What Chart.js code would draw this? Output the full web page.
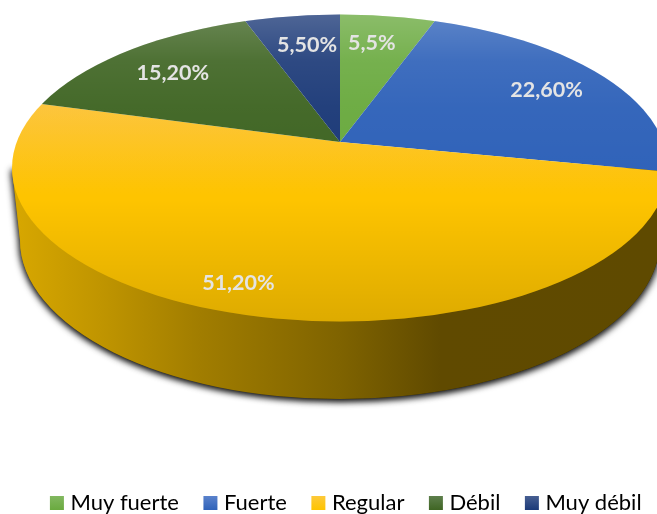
<!DOCTYPE html>
<html><head><meta charset="utf-8">
<style>html,body{margin:0;padding:0;background:#fff}canvas{display:block}</style>
<script src="https://cdn.jsdelivr.net/npm/chart.js@4"></script>
</head><body>
<canvas id="c" width="657" height="514"></canvas>
<script>
const categories = ["Muy fuerte","Fuerte","Regular","Débil","Muy débil"];
const values = [5.5,22.6,51.2,15.2,5.5];
const valueLabels = ["5,5%","22,60%","51,20%","15,20%","5,50%"];
const sliceColors = ["#6aaa3f","#2f62b9","#fec400","#3f6523","#1c3a78"];
const legendTopColors = ["#82b860","#5a82cc","#fdc93a","#5e7f4c","#475f92"];
const labelFractions = [[.44,.52],[.565,.55],[1.05,.75],[.543,.525],[.457,.51]];

// Projection of the flat pie on to the page
const apex = {x:340,y:142}, spreadX = 420, spreadY = 193;
const topRim = {x:340,y:168,rx:328,ry:153.5};
const baseRim = {x:340,y:240,rx:320,ry:159};
const wallStops = [[20,"#d6a600"],[100,"#c09500"],[200,"#a17d00"],[340,"#7f6300"],[440,"#604a00"],[657,"#5f4a00"]];
const legendShift = {x:19.5,y:1};

function traceWall(ctx){
  ctx.beginPath();
  ctx.moveTo(topRim.x-topRim.rx, topRim.y);
  ctx.lineTo(baseRim.x-baseRim.rx, baseRim.y);
  ctx.ellipse(baseRim.x,baseRim.y,baseRim.rx,baseRim.ry,0,Math.PI,0,true);
  ctx.lineTo(topRim.x+topRim.rx, topRim.y);
  ctx.closePath();
}

const threeD = {
  id:"threeD",
  afterLayout(chart){
    const l = chart.legend;
    const dy = 514 - 11 - (l.top + l.options.labels.padding + l.options.labels.font.size*0.5 + 1) + legendShift.y;
    l.top += dy; l.bottom += dy; l.left += legendShift.x; l.right += legendShift.x;
  },
  beforeDatasetsDraw(chart){
    const ctx = chart.ctx, arc = chart.getDatasetMeta(0).data[0];
    // side wall with soft shadow
    ctx.save();
    const g = ctx.createLinearGradient(20,0,657,0);
    wallStops.forEach(s=>g.addColorStop((s[0]-20)/637,s[1]));
    ctx.fillStyle = g;
    ctx.shadowColor = "rgba(0,0,0,0.95)";
    ctx.shadowBlur = 7;
    ctx.shadowOffsetX = -1;
    ctx.shadowOffsetY = 2;
    traceWall(ctx); ctx.fill();
    ctx.shadowColor = "rgba(0,0,0,0.6)";
    ctx.shadowOffsetX = 2;
    traceWall(ctx); ctx.fill();
    ctx.restore();
    // top surface: library arcs, squashed and clipped by the rim
    ctx.save();
    ctx.beginPath();
    ctx.ellipse(topRim.x,topRim.y,topRim.rx,topRim.ry,0,0,Math.PI*2);
    ctx.clip();
    ctx.translate(apex.x,apex.y);
    ctx.scale(spreadX/arc.outerRadius, spreadY/arc.outerRadius);
    ctx.translate(-arc.x,-arc.y);
  },
  afterDatasetsDraw(chart){
    const ctx = chart.ctx, meta = chart.getDatasetMeta(0);
    ctx.restore();
    // surface sheen
    ctx.save();
    ctx.beginPath();
    ctx.ellipse(topRim.x,topRim.y,topRim.rx,topRim.ry,0,0,Math.PI*2);
    const s = ctx.createLinearGradient(0,15,0,322);
    s.addColorStop(0,"rgba(255,255,255,0.22)");
    s.addColorStop(0.15,"rgba(255,255,255,0.08)");
    s.addColorStop(0.3,"rgba(255,255,255,0.03)");
    s.addColorStop(0.56,"rgba(255,255,255,0)");
    s.addColorStop(0.6,"rgba(0,0,0,0)");
    s.addColorStop(1,"rgba(0,0,0,0.13)");
    ctx.fillStyle = s;
    ctx.fill();
    // value labels
    ctx.font = "bold 21.5px Lato";
    ctx.fillStyle = "#e4e4e4";
    ctx.textAlign = "center";
    ctx.textBaseline = "middle";
    meta.data.forEach((a,i)=>{
      const mid = (a.startAngle+a.endAngle)/2;
      const x = apex.x + Math.cos(mid)*spreadX*labelFractions[i][0];
      const y = apex.y + Math.sin(mid)*spreadY*labelFractions[i][1];
      ctx.fillText(valueLabels[i],x,y);
    });
    ctx.restore();
  }
};

function sliceFill(c){
  const base = sliceColors[c.dataIndex];
  const area = c.chart.chartArea;
  if (c.dataIndex !== 2 || !area) return base;
  // the large slice is paler near its back edge
  const r = Math.min(area.right-area.left, area.bottom-area.top)/2;
  const cy = (area.top+area.bottom)/2;
  const toChart = y => cy + (y-apex.y)*r/spreadY;
  const g = c.chart.ctx.createLinearGradient(0,toChart(100),0,toChart(195));
  g.addColorStop(0,"#fcc33a");
  g.addColorStop(1,base);
  return g;
}

new Chart(document.getElementById("c"),{
  type:"pie",
  data:{labels:categories,datasets:[{data:values,backgroundColor:sliceFill,borderWidth:0,clip:false}]},
  options:{
    responsive:false,animation:false,
    plugins:{
      tooltip:{enabled:false},
      legend:{position:"bottom",labels:{
        font:{family:"Lato",size:22},color:"#000",padding:29,boxWidth:5,boxHeight:5,
        generateLabels(chart){
          const ctx = chart.ctx;
          return categories.map((t,i)=>{
            const g = ctx.createLinearGradient(0,496,0,510);
            g.addColorStop(0,legendTopColors[i]);
            g.addColorStop(1,sliceColors[i]);
            return {text:t,fillStyle:g,strokeStyle:g,lineWidth:9,hidden:false,index:i};
          });
        }
      }}
    }
  },
  plugins:[threeD]
});
</script>
</body></html>
